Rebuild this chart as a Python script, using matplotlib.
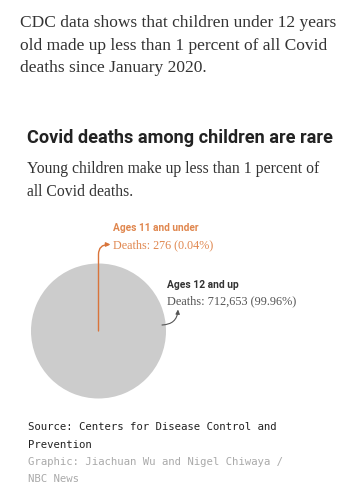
import matplotlib
matplotlib.use("Agg")
import matplotlib.pyplot as plt

# ---- data ----
categories = ["Ages 11 and under", "Ages 12 and up"]
deaths = [276, 712653]
shares = ["0.04%", "99.96%"]
colors = ["#d9743a", "#cccccc"]

intro = "CDC data shows that children under 12 years\nold made up less than 1 percent of all Covid\ndeaths since January 2020."
title = "Covid deaths among children are rare"
subtitle = "Young children make up less than 1 percent of\nall Covid deaths."
source = "Source: Centers for Disease Control and\nPrevention"
credit = "Graphic: Jiachuan Wu and Nigel Chiwaya /\nNBC News"

W, H = 362, 500
fig = plt.figure(figsize=(W / 100, H / 100), dpi=100)
ax = fig.add_axes([0, 0, 1, 1])

def Y(ypx):
    return H - ypx

cx, cy, r = 98.5, Y(331), 67.5
ax.pie(deaths, colors=colors, startangle=90, counterclock=False,
       center=(cx, cy), radius=r,
       wedgeprops=dict(linewidth=0))
ax.set_xlim(0, W)
ax.set_ylim(0, H)
ax.set_aspect("equal")
ax.axis("off")

serif = "Liberation Serif"
# intro text
for i, line in enumerate(intro.split("\n")):
    ax.text(20, Y(27 + i * 22.7), line, fontsize=12.55, family=serif,
            color="#333333", va="baseline", ha="left")

ax.text(27, Y(143), title, fontsize=13.1, family="Roboto", weight="bold",
        color="#222222", va="baseline", ha="left")
for i, line in enumerate(subtitle.split("\n")):
    ax.text(27, Y(173 + i * 22.5), line, fontsize=11.35, family=serif,
            color="#333333", va="baseline", ha="left")

# labels
ax.text(113, Y(231), categories[0], fontsize=7.3, family="Roboto", weight="bold",
        color="#e0874f", va="baseline", ha="left")
ax.text(113, Y(248), f"Deaths: {deaths[0]:,} ({shares[0]})", fontsize=8.7,
        family=serif, color="#e0874f", va="baseline", ha="left")
ax.text(167, Y(288), categories[1], fontsize=7.4, family="Roboto", weight="bold",
        color="#333333", va="baseline", ha="left")
ax.text(167, Y(304), f"Deaths: {deaths[1]:,} ({shares[1]})", fontsize=8.85,
        family=serif, color="#555555", va="baseline", ha="left")

# leader lines
ax.annotate("", xy=(110.5, Y(244.5)), xytext=(cx, cy),
            arrowprops=dict(arrowstyle="-|>,head_length=0.25,head_width=0.12",
                            color="#d9743a", lw=1.0, shrinkA=0, shrinkB=0,
                            connectionstyle="angle,angleA=90,angleB=0,rad=10"))
ax.annotate("", xy=(178, Y(309.5)), xytext=(162, Y(325)),
            arrowprops=dict(arrowstyle="-|>,head_length=0.25,head_width=0.12",
                            color="#555555", lw=0.8, shrinkA=0, shrinkB=0,
                            connectionstyle="arc3,rad=0.45"))

mono = "DejaVu Sans Mono"
for i, line in enumerate(source.split("\n")):
    ax.text(28, Y(430 + i * 17.5), line, fontsize=7.7, family=mono,
            color="#222222", va="baseline", ha="left")
for i, line in enumerate(credit.split("\n")):
    ax.text(28, Y(465 + i * 17.5), line, fontsize=7.7, family=mono,
            color="#aaaaaa", va="baseline", ha="left")

fig.savefig("out.png", dpi=100, facecolor="white")
